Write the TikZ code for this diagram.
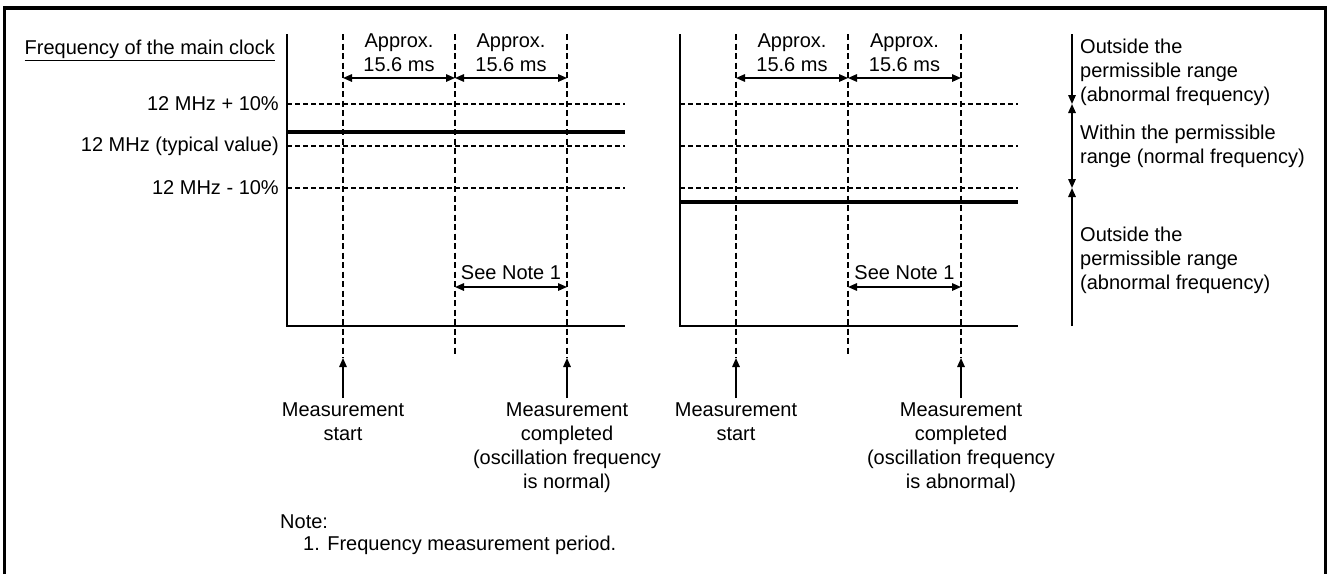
\documentclass[tikz,border=0pt]{standalone}
\usepackage{fontspec}
\setmainfont{Liberation Sans}
\usetikzlibrary{arrows.meta,positioning}

\tikzset{
  txt/.style={font=\fontsize{20}{24}\selectfont, inner sep=0pt, align=center},
  axis/.style={line width=2pt},
  level/.style={line width=1.1pt, dash pattern=on 5pt off 3pt},
  freq/.style={line width=3.6pt},
  tickline/.style={line width=2.8pt, dash pattern=on 6pt off 3.5pt},
  tip/.style={Triangle[length=9pt,width=7.5pt]},
  dim/.style={line width=1.5pt, {Triangle[length=9pt,width=7.5pt]}-{Triangle[length=9pt,width=7.5pt]}},
  rise/.style={line width=1.5pt, -{Triangle[length=9pt,width=7.5pt]}, shorten <=5pt},
  spanline/.style={line width=1.5pt},
}

\begin{document}
\begin{tikzpicture}[x=1pt, y=-1pt, node distance=45pt, every node/.style={txt}]
    \useasboundingbox (0,0) rectangle (1328,574);
    \draw[line width=3.5pt] (4.5,574) -- (4.5,8) -- (1325.5,8) -- (1325.5,574);

    \node[anchor=east] (title) at (275,50) {\underline{Frequency of the main clock}};
    \node[anchor=east] (hi)  at (279,104) {12 MHz + 10\%};
    \node[anchor=east] (typ) at (279,146) {12 MHz (typical value)};
    \node[anchor=east] (lo)  at (279,188) {12 MHz - 10\%};

    \draw[axis]  (287,34) -- (287,326) -- (625,326);
    \draw[level] (287,104) -- (625,104);
    \draw[level] (287,146) -- (625,146);
    \draw[level] (287,188) -- (625,188);
    \draw[freq]  (287,132) -- (625,132);

    \coordinate (as)  at (343,34);
    \coordinate (am)  at (455,34);
    \coordinate (ae)  at (567,34);
    \coordinate (asb) at (343,358);
    \coordinate (amb) at (455,356);
    \coordinate (aeb) at (567,358);
    \coordinate (ad1) at (343,78);
    \coordinate (ad2) at (455,78);
    \coordinate (ad3) at (567,78);
    \coordinate (an1) at (455,287);
    \coordinate (an2) at (567,287);
    \draw[tickline] (as) -- (asb);
    \draw[tickline] (am) -- (amb);
    \draw[tickline] (ae) -- (aeb);
    \draw[dim] (ad1) -- node[above=6pt] {Approx.\\15.6 ms} (ad2);
    \draw[dim] (ad2) -- node[above=6pt] {Approx.\\15.6 ms} (ad3);
    \draw[dim] (an1) -- node[above=7pt] {See Note 1} (an2);
    \node (asl) [below=of asb] {Measurement\\start};
    \node (ael) [below=of aeb] {Measurement\\completed\\(oscillation frequency\\is normal)};
    \draw[rise] (asl) -- (asb);
    \draw[rise] (ael) -- (aeb);

    \draw[axis]  (680,34) -- (680,326) -- (1018,326);
    \draw[level] (680,104) -- (1018,104);
    \draw[level] (680,146) -- (1018,146);
    \draw[level] (680,188) -- (1018,188);
    \draw[freq]  (680,202) -- (1018,202);

    \coordinate (bs)  at (736,34);
    \coordinate (bm)  at (848,34);
    \coordinate (be)  at (961,34);
    \coordinate (bsb) at (736,358);
    \coordinate (bmb) at (848,356);
    \coordinate (beb) at (961,358);
    \coordinate (bd1) at (736,78);
    \coordinate (bd2) at (848,78);
    \coordinate (bd3) at (961,78);
    \coordinate (bn1) at (848,287);
    \coordinate (bn2) at (961,287);
    \draw[tickline] (bs) -- (bsb);
    \draw[tickline] (bm) -- (bmb);
    \draw[tickline] (be) -- (beb);
    \draw[dim] (bd1) -- node[above=6pt] {Approx.\\15.6 ms} (bd2);
    \draw[dim] (bd2) -- node[above=6pt] {Approx.\\15.6 ms} (bd3);
    \draw[dim] (bn1) -- node[above=7pt] {See Note 1} (bn2);
    \node (bsl) [below=of bsb] {Measurement\\start};
    \node (bel) [below=of beb] {Measurement\\completed\\(oscillation frequency\\is abnormal)};
    \draw[rise] (bsl) -- (bsb);
    \draw[rise] (bel) -- (beb);

    \coordinate (r0) at (1072,34);
    \coordinate (r1) at (1072,104);
    \coordinate (r2) at (1072,188);
    \coordinate (r3) at (1072,326);
    \draw[spanline, -{Triangle[length=9pt,width=7.5pt]}] (r0) -- (r1);
    \draw[spanline, {Triangle[length=9pt,width=7.5pt]}-{Triangle[length=9pt,width=7.5pt]}] (r1) -- (r2);
    \draw[spanline, -{Triangle[length=9pt,width=7.5pt]}] (r3) -- (r2);
    \node[anchor=west, align=left] (out1) at (1080,72)  {Outside the\\permissible range\\(abnormal frequency)};
    \node[anchor=west, align=left] (within) at (1080,146) {Within the permissible\\range (normal frequency)};
    \node[anchor=west, align=left] (out2) at (1080,260) {Outside the\\permissible range\\(abnormal frequency)};

    \node[anchor=west] (note)  at (280,522) {Note:};
    \node[anchor=west] (note1) at (303,545) {1. Frequency measurement period.};
\end{tikzpicture}
\end{document}
